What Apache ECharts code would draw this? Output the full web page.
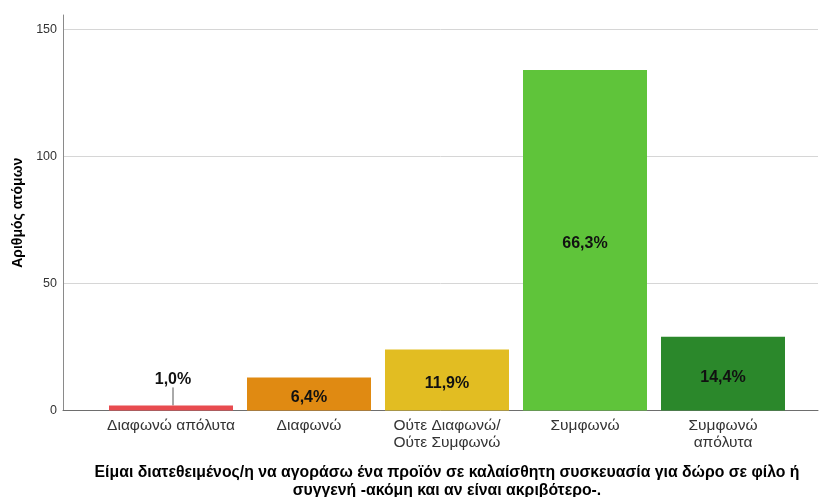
<!DOCTYPE html>
<html>
<head>
<meta charset="utf-8">
<script src="https://cdn.jsdelivr.net/npm/echarts@6/dist/echarts.min.js"></script>
<style>html,body{margin:0;padding:0;background:#fff}#c{width:819px;height:497px}</style>
</head>
<body>
<div id="c"></div>
<script>
var categories = ['Διαφωνώ απόλυτα', 'Διαφωνώ', 'Ούτε Διαφωνώ/\nΟύτε Συμφωνώ', 'Συμφωνώ', 'Συμφωνώ\nαπόλυτα'];
var counts = [2, 13, 24, 134, 29];
var barColors = ['#e84b4f', '#e08a12', '#e2bd22', '#5fc43a', '#2b882b'];
var yTicks = [0, 50, 100, 150];
var yName = 'Αριθμός ατόμων';
var xName = 'Είμαι διατεθειμένος/η να αγοράσω ένα προϊόν σε καλαίσθητη συσκευασία για δώρο σε φίλο ή\nσυγγενή -ακόμη και αν είναι ακριβότερο-.';

var total = counts.reduce(function (a, b) { return a + b; }, 0);
function pct(v) { return (v / total * 100).toFixed(1).replace('.', ',') + '%'; }

var FONT = 'Liberation Sans, Arial, sans-serif';
var Y_MAX = 155.7;

var chart = echarts.init(document.getElementById('c'), null, { renderer: 'canvas' });
chart.setOption({
  animation: false,
  backgroundColor: '#ffffff',
  grid: [
    { left: 63, right: 1, top: 15, bottom: 86.5, containLabel: false, outerBoundsMode: 'none' },
    { left: 102, right: 27, top: 15, bottom: 86.5, containLabel: false, outerBoundsMode: 'none' }
  ],
  xAxis: [
    {
      gridIndex: 0, type: 'category', data: [],
      axisLine: { show: true, lineStyle: { color: '#6e6e6e', width: 1 } },
      axisTick: { show: false }, axisLabel: { show: false }, splitLine: { show: false }
    },
    {
      gridIndex: 1, type: 'category', data: categories,
      axisLine: { show: false }, axisTick: { show: false },
      axisLabel: { color: '#333', fontFamily: FONT, fontSize: 15.5, lineHeight: 17, margin: 7, interval: 0 },
      name: xName, nameLocation: 'middle', nameGap: 53,
      nameTextStyle: { color: '#000', fontFamily: FONT, fontSize: 15.8, fontWeight: 'bold', lineHeight: 18 }
    }
  ],
  yAxis: [
    {
      gridIndex: 0, type: 'value', min: 0, max: Y_MAX, interval: 50,
      axisLine: { show: true, lineStyle: { color: '#8a8a8a', width: 1 } },
      axisTick: { show: false },
      axisLabel: {
        color: '#333', fontFamily: FONT, fontSize: 12.5, margin: 6,
        formatter: function (v) { return yTicks.indexOf(v) >= 0 ? String(v) : ''; }
      },
      splitLine: { show: true, lineStyle: { color: ['#d6d6d6', '#d6d6d6', '#d6d6d6', '#d6d6d6', 'rgba(0,0,0,0)'], width: 1 } },
      name: yName, nameLocation: 'middle', nameGap: 38, nameRotate: 90,
      nameTextStyle: { color: '#000', fontFamily: FONT, fontSize: 14, fontWeight: 'bold' }
    },
    {
      gridIndex: 1, type: 'value', min: 0, max: Y_MAX, interval: 50, show: false,
      splitLine: { show: false }
    }
  ],
  series: [
    {
      type: 'bar', xAxisIndex: 1, yAxisIndex: 1, barWidth: 124,
      data: counts.map(function (v, i) {
        var item = { value: v, itemStyle: { color: barColors[i] } };
        if (i === 0) {
          item.label = { position: 'top', distance: 4 };
          item.labelLine = { show: true, lineStyle: { color: '#555', width: 1 } };
        }
        return item;
      }),
      label: {
        show: true, position: 'inside', color: '#111', fontFamily: FONT, fontSize: 16, fontWeight: 'bold',
        formatter: function (p) { return pct(p.value); }
      },
      labelLayout: function (p) { return p.dataIndex === 0 ? { dy: -14, dx: 2 } : { dy: 3.5 }; }
    }
  ]
});
</script>
</body>
</html>
